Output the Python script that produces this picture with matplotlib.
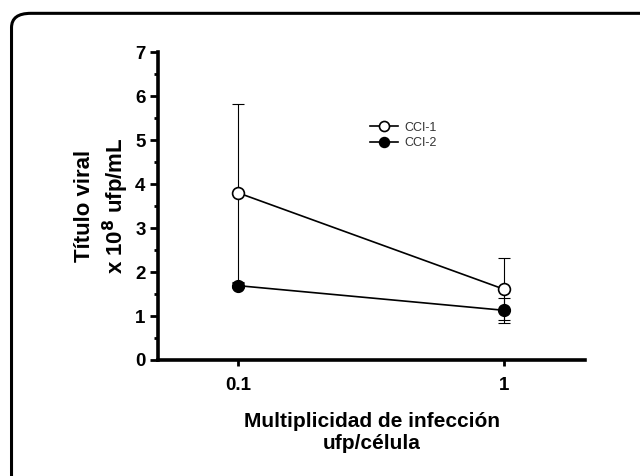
import numpy as np
import matplotlib.pyplot as plt
from matplotlib.patches import FancyBboxPatch

moi = [0.1, 1]
cci1 = [3.8, 1.61]
cci1_err = [2.02, 0.70]
cci2 = [1.69, 1.13]
cci2_err = [0.05, 0.28]

plt.rcParams['font.family'] = ['Liberation Sans', 'DejaVu Sans']

fig = plt.figure(figsize=(6.4, 4.76), dpi=100)

# rounded frame, cut at right and bottom like the source image
frame = FancyBboxPatch((0.018, -0.05), 1.1, 1.022, boxstyle='round,pad=0,rounding_size=0.03',
                       transform=fig.transFigure, fill=False, linewidth=2.2, edgecolor='black')
fig.patches.append(frame)

ax = fig.add_axes([0.247, 0.2437, 0.667, 0.647])

ax.errorbar(moi, cci1, yerr=cci1_err, fmt='none', ecolor='black', elinewidth=0.8, capsize=4, capthick=0.8, zorder=2)
ax.errorbar(moi, cci2, yerr=cci2_err, fmt='none', ecolor='black', elinewidth=0.8, capsize=4, capthick=0.8, zorder=2)
ax.plot(moi, cci1, color='black', linewidth=1.2, marker='o', markersize=8.5, markerfacecolor='white',
        markeredgecolor='black', markeredgewidth=1.2, label='CCI-1', zorder=4)
ax.plot(moi, cci2, color='black', linewidth=1.2, marker='o', markersize=8.5, markerfacecolor='black',
        markeredgecolor='black', label='CCI-2', zorder=3)

ax.set_xscale('log')
ax.set_xlim(0.05, 2.02)
ax.set_ylim(0, 7)
ax.set_xticks([0.1, 1])
ax.set_xticklabels(['0.1', '1'])
ax.xaxis.set_minor_locator(plt.NullLocator())
ax.set_yticks(np.arange(0, 8, 1))
ax.set_yticks(np.arange(0.5, 7, 1), minor=True)

for s in ['top', 'right']:
    ax.spines[s].set_visible(False)
for s in ['left', 'bottom']:
    ax.spines[s].set_linewidth(2.6)

ax.tick_params(axis='y', which='major', direction='out', length=6, width=2, labelsize=13.5, pad=3)
ax.tick_params(axis='y', which='minor', direction='out', length=3, width=2)
ax.tick_params(axis='x', which='major', direction='out', length=4, width=2, labelsize=13.5, pad=8)
for lab in ax.get_xticklabels() + ax.get_yticklabels():
    lab.set_fontweight('bold')

ax.set_xlabel('Multiplicidad de infección\nufp/célula', fontsize=15, fontweight='bold', labelpad=13,
              linespacing=1.25)
ax.set_ylabel('Título viral\nx 10$^{\\mathbf{8}}$ ufp/mL', fontsize=16, fontweight='bold', labelpad=3,
              linespacing=1.25)

ax.legend(loc='upper left', bbox_to_anchor=(0.471, 0.81), frameon=False, fontsize=9, handlelength=2.2,
          handletextpad=0.5, labelspacing=0.25, markerscale=0.85, labelcolor='#333333')

plt.savefig('out.png', dpi=100)
plt.close()
